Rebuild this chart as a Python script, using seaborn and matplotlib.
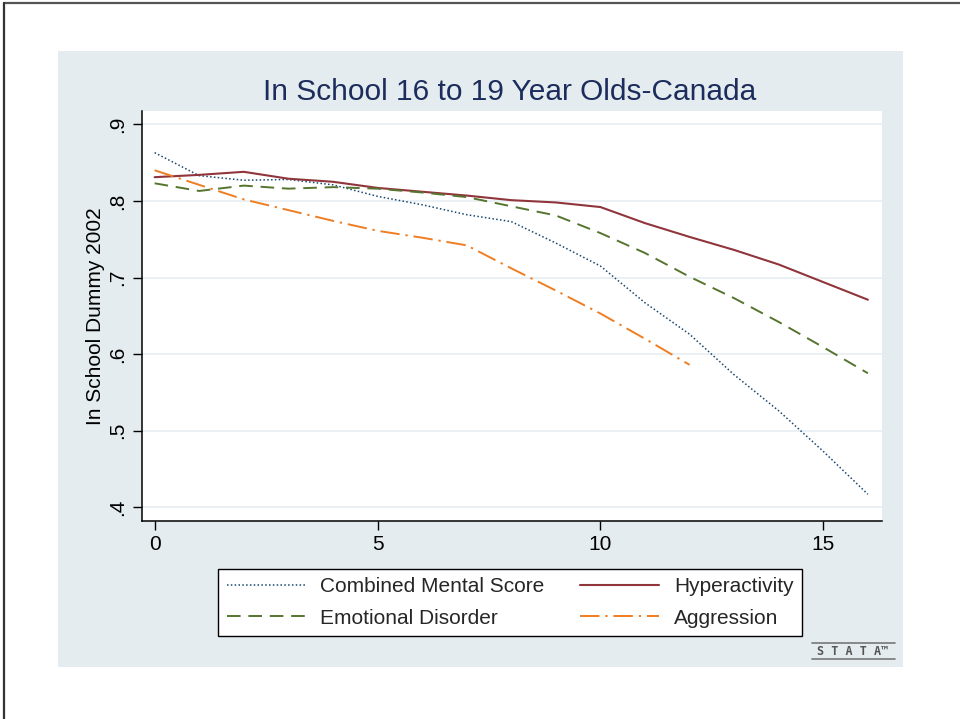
import numpy as np
import pandas as pd
import matplotlib
matplotlib.use("Agg")
import matplotlib.pyplot as plt
from matplotlib.patches import Rectangle
from matplotlib.lines import Line2D
import seaborn as sns

# Share still in school, by problem score
score = [0, 1, 2, 3, 4, 5, 6, 7, 8, 9, 10, 11, 12, 13, 14, 15, 16]
combined = [0.863, 0.833, 0.827, 0.828, 0.821, 0.806, 0.795, 0.782, 0.773, 0.745,
            0.715, 0.667, 0.626, 0.573, 0.526, 0.473, 0.417]
hyper = [0.831, 0.834, 0.838, 0.829, 0.825, 0.817, 0.812, 0.807, 0.801, 0.798,
         0.792, 0.771, 0.753, 0.736, 0.717, 0.694, 0.671]
emotional = [0.823, 0.813, 0.820, 0.816, 0.818, 0.816, 0.811, 0.805, 0.793, 0.781,
             0.758, 0.732, 0.701, 0.673, 0.642, 0.609, 0.575]
score_aggr = [0, 1, 2, 3, 4, 5, 6, 7, 8, 9, 10, 11, 12]
aggression = [0.840, 0.821, 0.802, 0.788, 0.774, 0.761, 0.752, 0.742, 0.712, 0.683,
              0.653, 0.620, 0.586]

yticks = [0.4, 0.5, 0.6, 0.7, 0.8, 0.9]
ytick_labels = [".4", ".5", ".6", ".7", ".8", ".9"]
xticks = [0, 5, 10, 15]

sns.set_theme(style="white")
plt.rcParams["font.family"] = ["Liberation Sans", "DejaVu Sans"]

W, H = 960, 719
fig = plt.figure(figsize=(W / 100, H / 100), dpi=100)
fig.patch.set_facecolor("white")

def fx(px):
    return px / W

def fy(py):
    return 1 - py / H

# graph region
fig.add_artist(Rectangle((fx(58), fy(667)), fx(903) - fx(58), fy(51) - fy(667),
                         transform=fig.transFigure, facecolor="#e4ecef",
                         edgecolor="none", zorder=0))
# outer frame (top and left)
fig.add_artist(Line2D([fx(4), fx(960)], [fy(2.5), fy(2.5)], transform=fig.transFigure,
                      color="#555555", lw=1.6))
fig.add_artist(Line2D([fx(4), fx(4)], [fy(2.5), fy(719)], transform=fig.transFigure,
                      color="#333333", lw=1.6))

ax = fig.add_axes([fx(141.7), fy(520.7), fx(881.7) - fx(141.7), fy(111) - fy(520.7)])
ax.set_facecolor("white")

navy = "#1a476f"
title_navy = "#1c2c5c"
maroon = "#90353b"
green = "#55752f"
orange = "#ef7d22"

df_c = pd.DataFrame({"score": score, "value": combined})
df_h = pd.DataFrame({"score": score, "value": hyper})
df_e = pd.DataFrame({"score": score, "value": emotional})
df_a = pd.DataFrame({"score": score_aggr, "value": aggression})

sns.lineplot(data=df_c, x="score", y="value", ax=ax, color=navy, lw=1.1,
             linestyle=(0, (1, 1.5)), label="Combined Mental Score")
sns.lineplot(data=df_h, x="score", y="value", ax=ax, color=maroon, lw=1.5,
             linestyle="-", label="Hyperactivity")
sns.lineplot(data=df_e, x="score", y="value", ax=ax, color=green, lw=1.4,
             linestyle=(0, (7, 4)), label="Emotional Disorder")
sns.lineplot(data=df_a, x="score", y="value", ax=ax, color=orange, lw=1.4,
             linestyle=(0, (10, 3, 1.2, 3)), label="Aggression")

ax.set_xlim(-0.29, 16.31)
ax.set_ylim(0.3825, 0.9174)
ax.set_yticks(yticks)
ax.set_yticklabels(ytick_labels, rotation=90, va="center")
ax.set_xticks(xticks)
ax.tick_params(axis="both", direction="out", length=6.5, width=1, color="black",
               labelsize=15, labelcolor="black", left=True, bottom=True, pad=4)
ax.yaxis.grid(True, color="#e6edf1", lw=1.2)
ax.xaxis.grid(False)
for s in ["top", "right"]:
    ax.spines[s].set_visible(False)
for s in ["left", "bottom"]:
    ax.spines[s].set_color("black")
    ax.spines[s].set_linewidth(1.1)
ax.set_xlabel("")
ax.set_ylabel("In School Dummy 2002", fontsize=15, color="black", labelpad=2)

fig.text(fx(510), fy(92), "In School 16 to 19 Year Olds-Canada", ha="center",
         va="center", fontsize=21.5, color=title_navy)

handles, labels = ax.get_legend_handles_labels()
order = [0, 2, 1, 3]
ax.get_legend().remove()
leg = fig.legend([handles[i] for i in order], [labels[i] for i in order],
                 loc="center", bbox_to_anchor=(fx(510), fy(602.5)), ncol=2,
                 fontsize=15, frameon=True, fancybox=False, edgecolor="black",
                 facecolor="white", framealpha=1, handlelength=3.8,
                 handletextpad=0.7, columnspacing=1.7, borderpad=0.4,
                 labelspacing=0.6)
leg.get_frame().set_linewidth(1.0)

# Stata mark
fig.add_artist(Line2D([fx(812), fx(895)], [fy(643), fy(643)], transform=fig.transFigure,
                      color="#777777", lw=1.2))
fig.add_artist(Line2D([fx(812), fx(895)], [fy(659), fy(659)], transform=fig.transFigure,
                      color="#777777", lw=1.2))
fig.text(fx(853), fy(651.5), "S T A T A\u2122", ha="center", va="center", fontsize=8.5,
         color="#555555", family=["DejaVu Sans Mono"], fontweight="bold")

fig.savefig("out.png", dpi=100)
